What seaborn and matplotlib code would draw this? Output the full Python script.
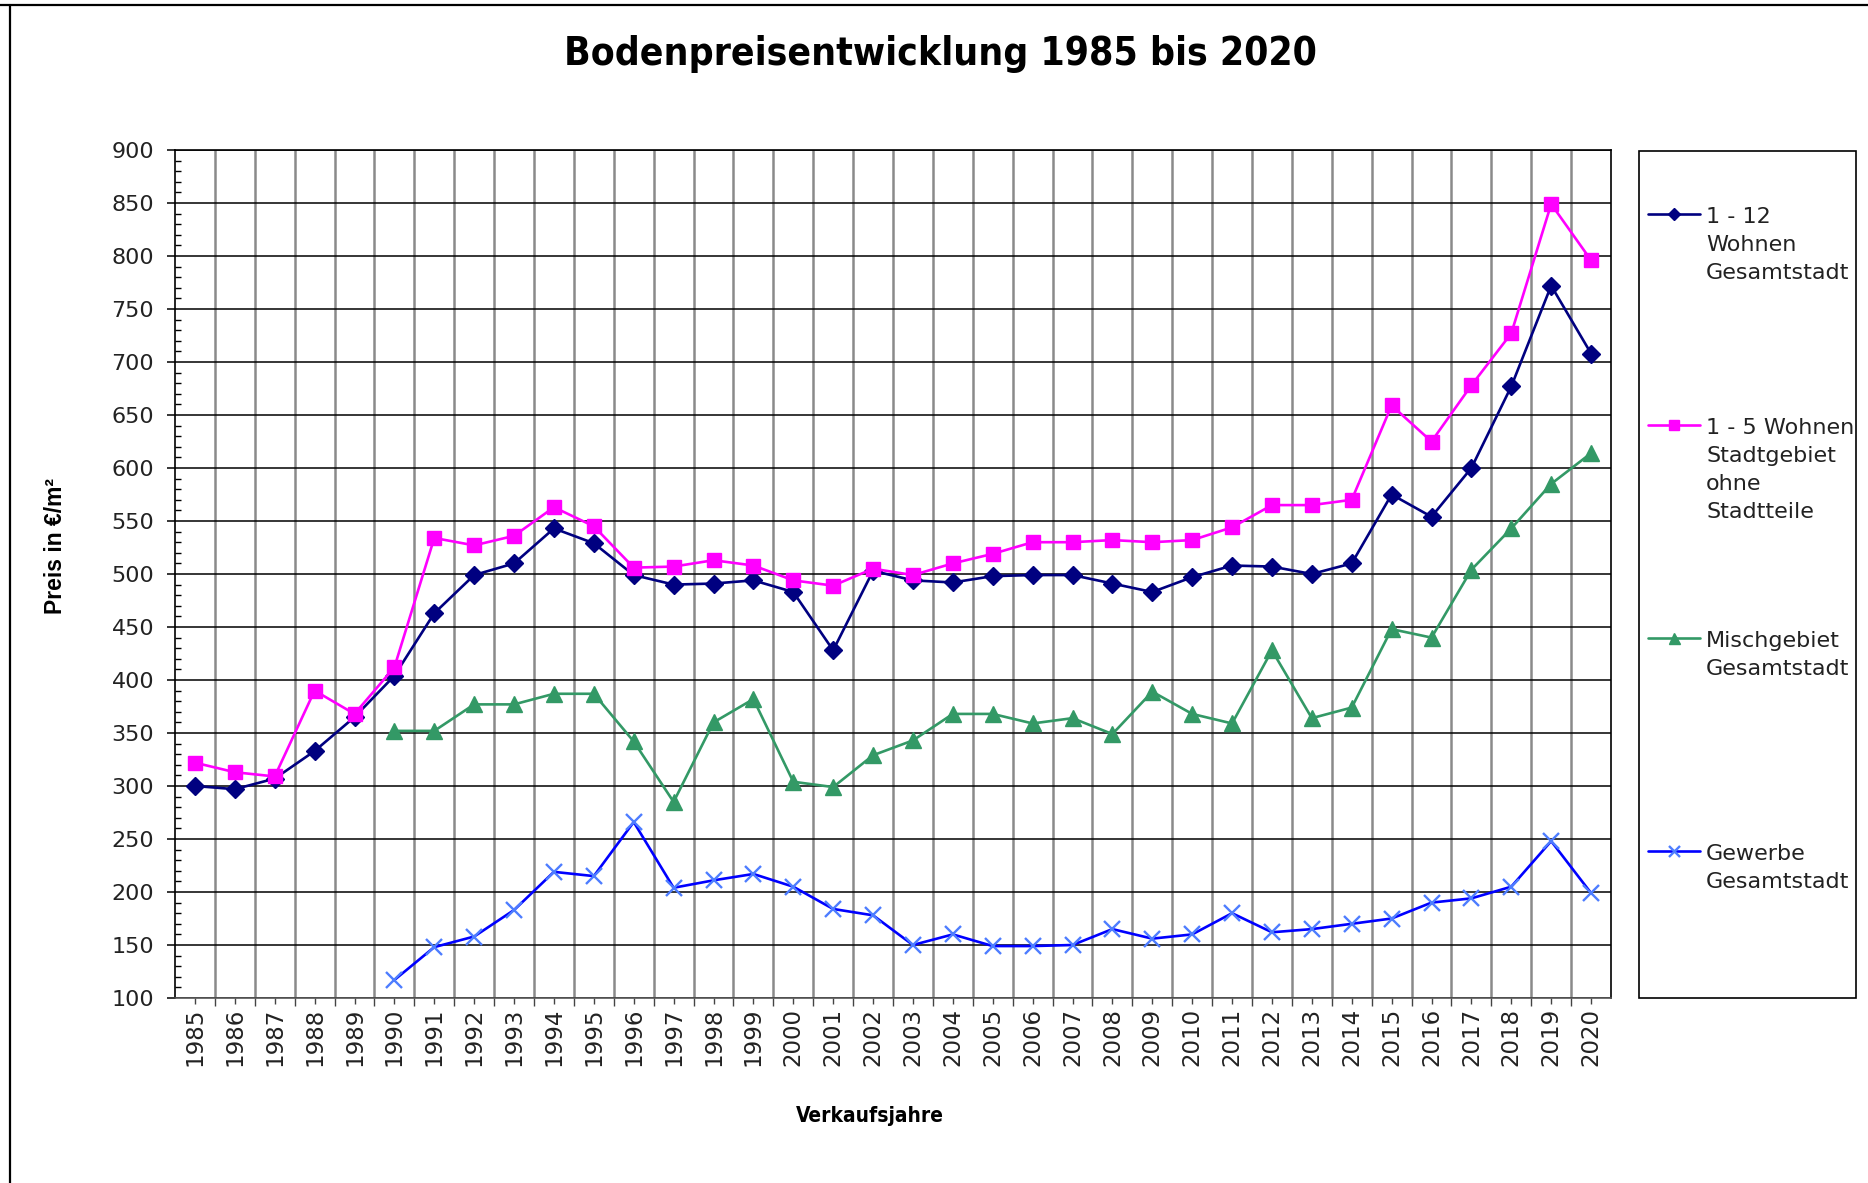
import numpy as np
import pandas as pd
import matplotlib
matplotlib.use("Agg")
import matplotlib.pyplot as plt
import seaborn as sns
from matplotlib.lines import Line2D
from matplotlib.patches import Rectangle
from matplotlib.ticker import MultipleLocator, FixedLocator
from matplotlib import font_manager as fm

# ---------------- data ----------------
years = list(range(1985, 2021))
nan = np.nan
wohnen_1_12 = [300, 297, 307, 333, 365, 404, 463, 499, 510, 543, 529, 499, 490, 491,
               494, 483, 428, 503, 494, 492, 498, 499, 499, 491, 483, 497, 508, 507,
               500, 510, 575, 554, 600, 677, 772, 708]
wohnen_1_5 = [322, 313, 309, 390, 368, 412, 534, 527, 536, 563, 545, 506, 507, 513,
              508, 494, 489, 505, 499, 510, 519, 530, 530, 532, 530, 532, 544, 565,
              565, 570, 659, 625, 678, 727, 849, 796]
mischgebiet = [nan, nan, nan, nan, nan, 352, 352, 377, 377, 387, 387, 342, 285, 360,
               382, 304, 299, 329, 343, 368, 368, 359, 364, 349, 389, 368, 359, 428,
               364, 374, 448, 440, 504, 543, 585, 614]
gewerbe = [nan, nan, nan, nan, nan, 117, 148, 158, 183, 219, 215, 266, 204, 211,
           217, 205, 184, 178, 150, 160, 149, 149, 150, 165, 156, 160, 180, 162,
           165, 170, 175, 190, 194, 205, 248, 199]
series_labels = ["1 - 12\nWohnen\nGesamtstadt",
                 "1 - 5 Wohnen\nStadtgebiet\nohne\nStadtteile",
                 "Mischgebiet\nGesamtstadt",
                 "Gewerbe\nGesamtstadt"]
y_ticks = list(range(100, 901, 50))

title_text = "Bodenpreisentwicklung 1985 bis 2020"
xlabel_text = "Verkaufsjahre"
ylabel_text = "Preis in €/m²"

# ---------------- style ----------------
sns.set_style("ticks")
plt.rcParams["font.family"] = ["DejaVu Sans"]

names = {f.name for f in fm.fontManager.ttflist}
if "Liberation Sans Narrow" in names:
    cond_font = dict(family=["Liberation Sans Narrow", "DejaVu Sans"], weight="bold")
    title_size, xlab_size = 33, 17
else:
    cond_font = dict(family=["DejaVu Sans"], weight="bold", stretch="condensed")
    title_size, xlab_size = 28, 15
if "Liberation Sans" in names:
    bold_font = dict(family=["Liberation Sans", "DejaVu Sans"], weight="bold")
else:
    bold_font = dict(family=["DejaVu Sans"], weight="bold")

W, H = 1868, 1183
fig = plt.figure(figsize=(W / 100, H / 100), dpi=100)
fig.patch.set_facecolor("white")

ax = fig.add_axes([175 / W, 1 - 998 / H, (1611 - 175) / W, (998 - 150) / H])

styles = [
    (wohnen_1_12, "#000080", "D", 9, "#000080", 1.0),
    (wohnen_1_5, "#FF00FF", "s", 10.5, "#FF00FF", 1.0),
    (mischgebiet, "#339966", "^", 11, "#339966", 1.0),
    (gewerbe, "#0000FF", "x", 11, "#4D7DFF", 1.7),
]
for vals, col, mk, ms, mcol, mew in styles:
    df = pd.DataFrame({"Jahr": years, "Preis": vals}).dropna()
    sns.lineplot(data=df, x="Jahr", y="Preis", color=col, marker=mk, markersize=ms,
                 markerfacecolor=mcol, markeredgecolor=mcol, markeredgewidth=mew,
                 linewidth=1.9, ax=ax, legend=False, zorder=5)

ax.set_xlim(1984.5, 2020.5)
ax.set_ylim(100, 900)

# y axis
ax.yaxis.set_major_locator(FixedLocator(y_ticks))
ax.yaxis.set_minor_locator(MultipleLocator(10))
ax.tick_params(axis="y", which="major", direction="out", length=6, width=1.1,
               labelsize=16, pad=9, labelcolor="#222222", color="black")
ax.tick_params(axis="y", which="minor", direction="in", length=4, width=1.0,
               color="black")
ax.grid(axis="y", which="major", color="black", linewidth=1.1)

# x axis
ax.xaxis.set_major_locator(FixedLocator(years))
ax.set_xticklabels([str(y) for y in years], rotation=90, ha="center", va="top")
ax.xaxis.set_minor_locator(FixedLocator([y + 0.5 for y in years[:-1]]))
ax.tick_params(axis="x", which="major", direction="out", length=4, width=1.0,
               labelsize=16.5, pad=3, labelcolor="#222222", color="#444444")
ax.tick_params(axis="x", which="minor", direction="out", length=6, width=1.0,
               color="#444444")
ax.grid(axis="x", which="minor", color="#8a8a8a", linewidth=1.8)
ax.set_axisbelow(True)

for side, sp in ax.spines.items():
    sp.set_visible(True)
    sp.set_color("black")
    sp.set_linewidth(1.2)
ax.spines["bottom"].set_color("#555555")

ax.set_xlabel("")
ax.set_ylabel("")

# titles / labels
fig.text(940 / W, 1 - 54 / H, title_text, ha="center", va="center",
         fontsize=title_size, color="black", **cond_font)
fig.text(870 / W, 1 - 1116 / H, xlabel_text, ha="center", va="center",
         fontsize=xlab_size, color="black", **cond_font)
fig.text(56 / W, 1 - 546 / H, ylabel_text, ha="center", va="center", rotation=90,
         fontsize=16.5, color="black", **bold_font)

# legend box (manual, to keep multi-line labels aligned to their first line)
fig.add_artist(Rectangle((1639 / W, 1 - 998 / H), (1856 - 1639) / W, (998 - 151) / H,
                         transform=fig.transFigure, facecolor="white",
                         edgecolor="black", linewidth=1.2))
legend_y = [214, 425, 638, 851]
for (vals, col, mk, ms, mcol, mew), lab, ly in zip(styles, series_labels, legend_y):
    yy = 1 - ly / H
    fig.add_artist(Line2D([1648 / W, 1674 / W, 1700 / W], [yy, yy, yy],
                          transform=fig.transFigure, color=col, linewidth=1.9,
                          marker=mk, markevery=[1], markersize=ms * 0.72,
                          markerfacecolor=mcol, markeredgecolor=mcol,
                          markeredgewidth=mew))
    fig.text(1706 / W, 1 - (ly - 7) / H, lab, ha="left", va="top", fontsize=16,
             color="#222222", linespacing=1.5)

# outer frame lines (top and left)
fig.add_artist(Line2D([0, 1], [1 - 5 / H, 1 - 5 / H], transform=fig.transFigure,
                      color="black", linewidth=1.6))
fig.add_artist(Line2D([10 / W, 10 / W], [0, 1 - 5 / H], transform=fig.transFigure,
                      color="black", linewidth=1.6))

fig.savefig("out.png", dpi=100, facecolor="white")
